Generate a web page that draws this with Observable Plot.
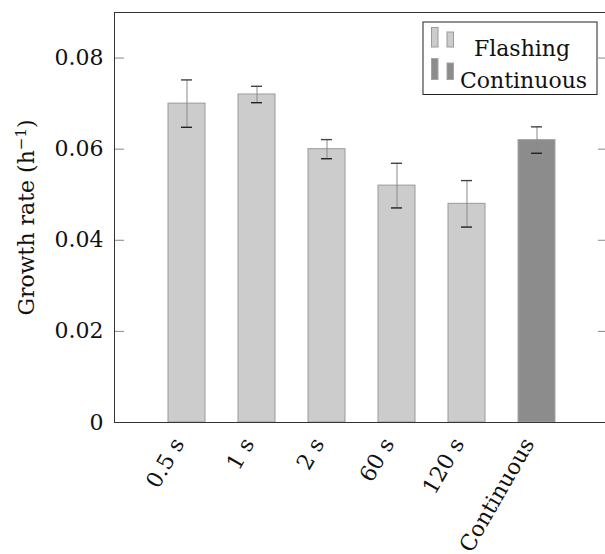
<!DOCTYPE html>
<html><head><meta charset="utf-8">
<script src="https://cdn.jsdelivr.net/npm/d3@7"></script>
<script src="https://cdn.jsdelivr.net/npm/@observablehq/plot@0.6"></script>
<style>
html,body{margin:0;padding:0;background:#fff;overflow:hidden}
</style>
</head><body><div id="chart"></div>
<script>
const categories = ["0.5 s", "1 s", "2 s", "60 s", "120 s", "Continuous"];
const rates = [0.070, 0.072, 0.060, 0.052, 0.048, 0.062];
const errors = [0.0052, 0.0018, 0.0021, 0.0049, 0.0051, 0.0029];
const modes = ["Flashing", "Flashing", "Flashing", "Flashing", "Flashing", "Continuous"];
const yTicks = [0, 0.02, 0.04, 0.06, 0.08];
const yTickLabels = ["0", "0.02", "0.04", "0.06", "0.08"];
const legendLabels = ["Flashing", "Continuous"];
const yLabel = "Growth rate (h\u22121)";

const data = categories.map((c, i) => ({category: c, rate: rates[i], err: errors[i], mode: modes[i]}));

const W = 605, H = 554, ML = 114, MR = -3, MT = 12, MB = 132;
const FR = W - MR, FB = H - MB, frameW = FR - ML;
const fill = {Flashing: "#cccccc", Continuous: "#8c8c8c"};
const edge = {Flashing: "#9a9a9a", Continuous: "#a4a4a4"};
const T = {fontFamily: "DejaVu Serif", fontSize: 22, fill: "#111"};

const box = (x1, y1, x2, y2, o) => Plot.frame({insetLeft: x1 - ML, insetRight: FR - x2, insetTop: y1 - MT, insetBottom: FB - y2, ...o});

const marks = [];
for (const m of legendLabels) {
  marks.push(Plot.barY(data.filter(d => d.mode === m), {x: "category", y: "rate", fill: fill[m], stroke: edge[m], strokeWidth: 1}));
}
marks.push(
  Plot.ruleX(data, {x: "category", y1: d => d.rate - d.err, y2: d => d.rate + d.err, stroke: "#8a8a8a", strokeWidth: 1}),
  Plot.tickY(data, {x: "category", y: d => d.rate + d.err, insetLeft: 13, insetRight: 13, stroke: "#444", strokeWidth: 1.4}),
  Plot.tickY(data, {x: "category", y: d => d.rate - d.err, insetLeft: 13, insetRight: 13, stroke: "#222", strokeWidth: 1.4}),
  Plot.tickY(yTicks.filter(d => d > 0), {y: d => d, insetRight: frameW - 10, stroke: "#888"}),
  Plot.tickY(yTicks.filter(d => d > 0), {y: d => d, insetLeft: frameW - 10, stroke: "#888"}),
  Plot.text(yTicks, {y: d => d, text: (d, i) => yTickLabels[i], frameAnchor: "left", dx: -11, textAnchor: "end", ...T}),
  Plot.text(data, {x: "category", text: "category", frameAnchor: "bottom", rotate: -60, textAnchor: "end", dx: -2, dy: 21, ...T}),
  Plot.text([yLabel], {frameAnchor: "left", dx: -88, rotate: -90, textAnchor: "middle", ...T}),
  Plot.frame({stroke: "#333", strokeWidth: 1}),
  box(422.5, 21.5, 596.5, 94, {fill: "white", stroke: "#222"}),
  box(431, 27, 437.5, 46.5, {fill: fill.Flashing, stroke: edge.Flashing}),
  box(446.5, 31.5, 453, 46.5, {fill: fill.Flashing, stroke: edge.Flashing}),
  box(431, 58, 437.5, 79, {fill: fill.Continuous, stroke: edge.Continuous}),
  box(446.5, 62.5, 453, 79, {fill: fill.Continuous, stroke: edge.Continuous}),
  Plot.text([legendLabels[0]], {frameAnchor: "top-left", dx: 521.5 - ML, dy: 40 - MT, textAnchor: "middle", ...T}),
  Plot.text([legendLabels[1]], {frameAnchor: "top-left", dx: 523 - ML, dy: 72 - MT, textAnchor: "middle", ...T})
);

const chart = Plot.plot({
  width: W, height: H,
  marginLeft: ML, marginRight: MR, marginTop: MT, marginBottom: MB,
  style: {fontSize: "22px", background: "white", color: "#111", overflow: "hidden"},
  x: {type: "band", domain: categories, paddingInner: 0.476, paddingOuter: 0.738, axis: null},
  y: {domain: [0, 0.09], axis: null},
  marks
});
chart.style.maxWidth = "none";
document.getElementById("chart").append(chart);

for (const t of chart.querySelectorAll("text")) {
  if (t.textContent === yLabel) {
    const ns = "http://www.w3.org/2000/svg";
    t.textContent = "Growth rate (h";
    const sup = document.createElementNS(ns, "tspan");
    sup.setAttribute("dy", "-8");
    sup.setAttribute("font-size", "15");
    sup.textContent = "\u22121";
    const close = document.createElementNS(ns, "tspan");
    close.setAttribute("dy", "8");
    close.textContent = ")";
    t.append(sup, close);
  }
}
</script>
</body></html>
